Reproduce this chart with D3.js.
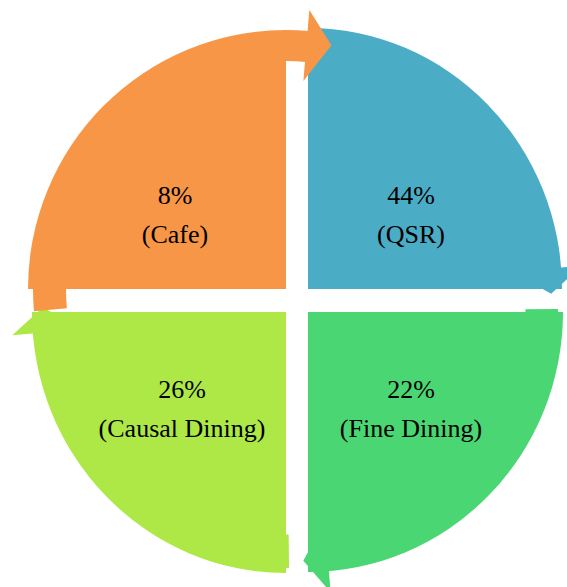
<!DOCTYPE html>
<html>
<head>
<meta charset="utf-8">
<script src="https://cdn.jsdelivr.net/npm/d3@7"></script>
<style>
  html, body { margin: 0; padding: 0; background: #fff; }
  svg { display: block; }
</style>
</head>
<body>
<div id="chart"></div>
<script>
const width = 567;
const height = 587;

// segments, clockwise from 12 o'clock
const segments = ["QSR", "Fine Dining", "Causal Dining", "Cafe"];
const shares = [44, 22, 26, 8];
const colors = ["#4BACC6", "#4AD672", "#ADE846", "#F79646"];

// layout of the circular arrow pieces
const cx = 297, cy = 300.5;      // middle of the white cross
const gapX = 11, gapY = 11.5;    // half width of the cross
const R = 258;
const radiiX = [254, 255, 254, 258];
const radiiY = [261, 260, 261, 259];
const tailDeg = [0, 0.7, 0.7, 5];
const arrowShiftDeg = [0, 0, 0, 9.5];
const labelX = [114, 114, -115, -122];
const labelY = [-97, 97, 97, -97];

const rad = d => d * Math.PI / 180;

const svg = d3.select("#chart").append("svg")
  .attr("width", width)
  .attr("height", height);

// equal quarters, the share is only written as text
const pie = d3.pie().value(() => 1).sort(null);
const arcs = pie(shares);

const sector = d3.arc().innerRadius(0).outerRadius(R);
const band = d3.arc().innerRadius(R - 31).outerRadius(R);
const tail = d3.arc().innerRadius(R - 38).outerRadius(R - 5);
const line = d3.line();

const pieces = svg.selectAll("g.piece")
  .data(arcs)
  .join("g")
  .attr("class", "piece")
  .attr("transform", (d, i) => {
    const mid = (d.startAngle + d.endAngle) / 2;
    const ox = Math.sign(Math.sin(mid)) * gapX;
    const oy = -Math.sign(Math.cos(mid)) * gapY;
    return `translate(${cx + ox},${cy + oy}) scale(${radiiX[i] / R},${radiiY[i] / R})`;
  })
  .attr("fill", (d, i) => colors[i]);

pieces.each(function(d, i) {
  const group = d3.select(this);

  // quarter disc
  group.append("path").attr("d", sector(d));

  // little tail where the arrow starts
  if (tailDeg[i] > 0) {
    group.append("path")
      .attr("d", tail({ startAngle: d.startAngle - rad(tailDeg[i]), endAngle: d.startAngle }));
  }

  // arrow head at the clockwise end
  const back = d.endAngle + rad(arrowShiftDeg[i] - 4.7);
  const tip = back + rad(5.8);
  if (back > d.endAngle) {
    group.append("path")
      .attr("d", band({ startAngle: d.endAngle - 0.01, endAngle: back + 0.005 }));
  }
  const head = [
    d3.pointRadial(back, R - 50),
    d3.pointRadial(back, R + 21),
    d3.pointRadial(tip, R - 11)
  ];
  group.append("path").attr("d", line(head) + "Z");
});

// labels
const labels = svg.selectAll("text.label")
  .data(arcs)
  .join("text")
  .attr("class", "label")
  .attr("text-anchor", "middle")
  .attr("font-family", "'Liberation Serif', 'Times New Roman', serif")
  .attr("font-size", "26px")
  .attr("fill", "#000");

labels.append("tspan")
  .attr("x", (d, i) => cx + labelX[i])
  .attr("y", (d, i) => cy + labelY[i])
  .text(d => `${d.data}%`);

labels.append("tspan")
  .attr("x", (d, i) => cx + labelX[i])
  .attr("y", (d, i) => cy + labelY[i] + 39)
  .text((d, i) => `(${segments[i]})`);
</script>
</body>
</html>
